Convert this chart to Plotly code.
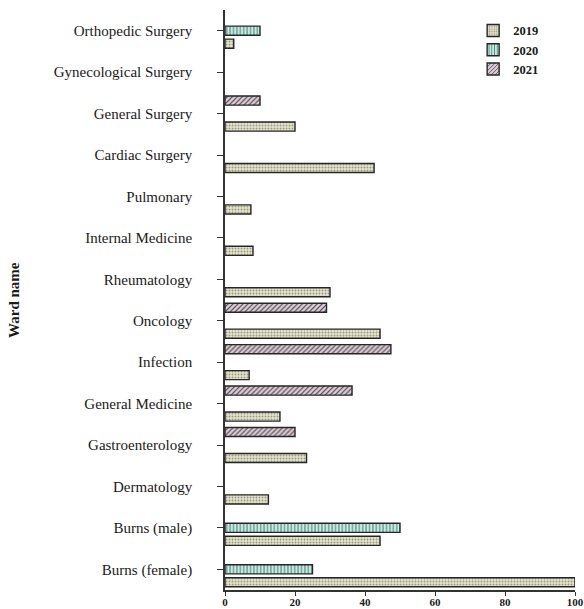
import plotly.graph_objects as go

# Wards, listed from the top of the chart downwards
wards = [
    "Orthopedic Surgery", "Gynecological Surgery", "General Surgery",
    "Cardiac Surgery", "Pulmonary", "Internal Medicine", "Rheumatology",
    "Oncology", "Infection", "General Medicine", "Gastroenterology",
    "Dermatology", "Burns (male)", "Burns (female)",
]

# Values per ward and year (None = no bar)
v2019 = [2.5, None, 20, 42.6, 7.4, 8, 30, 44.3, 6.9, 15.7, 23.3, 12.4, 44.3, 100]
v2020 = [10, None, None, None, None, None, None, None, None, None, None, None, 50, 25]
v2021 = [None, None, 10, None, None, None, None, 29, 47.4, 36.3, 20, None, None, None]

x_ticks = [0, 20, 40, 60, 80, 100]

SERIF = "Liberation Serif, Times New Roman, serif"
EDGE = "#262626"

series = [
    ("2019", v2019, "#e6e6d0", "#9a9a82", ".", 3, 0.35),
    ("2020", v2020, "#c6ece2", "#4f7f74", "|", 3.4, 0.3),
    ("2021", v2021, "#dccfd7", "#5d4f58", "/", 3.5, 0.35),
]

fig = go.Figure()
for name, vals, bg, fg, shape, size, solid in series:
    fig.add_trace(go.Bar(
        name=name, y=wards, x=vals, orientation="h",
        marker=dict(
            color=bg,
            line=dict(color=EDGE, width=1.4),
            pattern=dict(shape=shape, bgcolor=bg, fgcolor=fg,
                         size=size, solidity=solid, fillmode="replace"),
        ),
    ))

fig.update_layout(
    width=584, height=609,
    margin=dict(l=225, r=9, t=10, b=19),
    paper_bgcolor="white", plot_bgcolor="white",
    barmode="group", bargap=0.06, bargroupgap=0.3,
    font=dict(family=SERIF, color="#1a1a1a"),
    legend=dict(
        x=0.709, y=0.99, xanchor="left", yanchor="top",
        traceorder="normal", bgcolor="rgba(0,0,0,0)",
        font=dict(family=SERIF, size=12.5, color="#1a1a1a", weight="bold"),
        tracegroupgap=2,
    ),
    showlegend=True,
    annotations=[dict(
        text="Ward name", textangle=-90,
        xref="paper", yref="paper", x=-0.603, y=0.5,
        xanchor="center", yanchor="middle", showarrow=False,
        font=dict(family=SERIF, size=15, color="#1a1a1a", weight="bold"),
    )],
)

fig.update_xaxes(
    range=[0, 100], tickvals=x_ticks, automargin=False,
    showgrid=False, zeroline=False,
    showline=True, linecolor="#333", linewidth=1.6,
    ticks="outside", ticklen=4, tickwidth=1.4, tickcolor="#333",
    ticklabelstandoff=-3,
    tickfont=dict(family=SERIF, size=11, color="#1a1a1a", weight="bold"),
)

fig.update_yaxes(
    categoryorder="array", categoryarray=list(reversed(wards)),
    range=[-0.5, len(wards) - 0.5], automargin=False,
    showgrid=False, zeroline=False,
    showline=True, linecolor="#333", linewidth=1.6,
    ticks="outside", ticklen=6, tickwidth=1.4, tickcolor="#333",
    ticklabelstandoff=22,
    tickfont=dict(family=SERIF, size=15, color="#1a1a1a"),
)

fig.write_html("out.html")
